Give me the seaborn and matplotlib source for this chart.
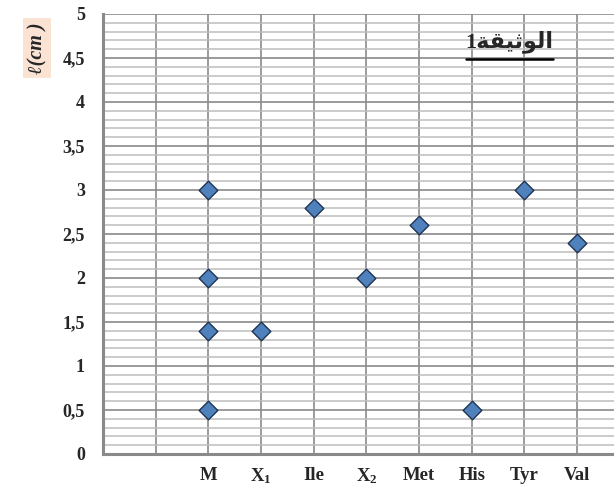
import matplotlib
matplotlib.use('Agg')
import matplotlib.pyplot as plt
import seaborn as sns
import pandas as pd
from matplotlib.ticker import MultipleLocator, FixedLocator

# categories on the x axis (two empty slots come first)
order = ['', ' ', 'M', 'X1', 'Ile', 'X2', 'Met', 'His', 'Tyr', 'Val']
tick_labels = ['', '', 'M', 'X$_1$', 'Ile', 'X$_2$', 'Met', 'His', 'Tyr', 'Val']

# measured distances (cm)
spot = ['M', 'M', 'M', 'M', 'X1', 'Ile', 'X2', 'Met', 'His', 'Tyr', 'Val']
dist = [3.0, 2.0, 1.4, 0.5, 1.4, 2.8, 2.0, 2.6, 0.5, 3.0, 2.4]

yticks = [0, 0.5, 1, 1.5, 2, 2.5, 3, 3.5, 4, 4.5, 5]
ytick_labels = ['0', '0,5', '1', '1,5', '2', '2,5', '3', '3,5', '4', '4,5', '5']

df = pd.DataFrame({'spot': spot, 'dist': dist})

sns.set_style('white')
plt.rcParams['font.family'] = ['Liberation Serif', 'DejaVu Serif', 'DejaVu Sans']
plt.rcParams['mathtext.fontset'] = 'custom'
plt.rcParams['mathtext.rm'] = 'Liberation Serif:bold'
plt.rcParams['mathtext.bf'] = 'Liberation Serif:bold'
plt.rcParams['mathtext.it'] = 'Liberation Serif:bold'

fig = plt.figure(figsize=(6.14, 4.87), dpi=100)
ax = fig.add_axes([103/614, 1 - 454/487, 1 - 103/614, 440/487])

sns.stripplot(data=df, x='spot', y='dist', order=order, jitter=False,
              marker='D', size=9.5, color='#4f81bd', edgecolor='#1f3350',
              linewidth=1, ax=ax, zorder=5)

grid_col = '#8a8a8a'
ax.set_xlim(0, 9.7)
ax.set_ylim(0, 5)
ax.set_yticks(yticks)
ax.set_yticklabels(ytick_labels, fontsize=13, fontweight='bold')
ax.set_xticks(range(len(order)))
ax.set_xticklabels(tick_labels, fontsize=13.5, fontweight='bold')
ax.xaxis.set_minor_locator(FixedLocator([0, 2, 4, 6, 8]))
ax.yaxis.set_minor_locator(MultipleLocator(0.1))

ax.grid(True, which='major', axis='both', color=grid_col, lw=1.2)
ax.grid(True, which='minor', axis='y', color='#bdbdbd', lw=1.1)
ax.set_axisbelow(True)

ax.tick_params(axis='y', which='major', length=5, width=2, color=grid_col, pad=8)
ax.tick_params(axis='y', which='minor', length=0)
ax.tick_params(axis='x', which='major', length=0, pad=9)
ax.tick_params(axis='x', which='minor', length=5, width=2, color=grid_col)

for s in ['top', 'right']:
    ax.spines[s].set_visible(False)
for s in ['left', 'bottom']:
    ax.spines[s].set_color(grid_col)
    ax.spines[s].set_linewidth(2.2)

ax.set_xlabel('')
ax.set_ylabel('')

# y axis unit, boxed at the top left
ax.text(-0.129, 0.922, 'ℓ(cm )', transform=ax.transAxes, rotation=90,
        ha='center', va='center', fontsize=14.5, fontweight='bold',
        fontstyle='italic',
        bbox=dict(fc='#fbe3d4', ec='none', boxstyle='square,pad=0.2'))

# document title (arabic, shaped forms in visual order)
title = '1' + '\ufe94\ufed8\ufef4\ufe9b\ufeee\ufedf\ufe8d'
ax.text(0.795, 0.937, title, transform=ax.transAxes, ha='center', va='center',
        fontsize=16, fontweight='bold',
        family=['Liberation Serif', 'DejaVu Sans'])
ax.plot([0.710, 0.881], [0.898, 0.898], transform=ax.transAxes, color='black',
        lw=1.8, clip_on=False)

fig.savefig('out.png', dpi=100)
